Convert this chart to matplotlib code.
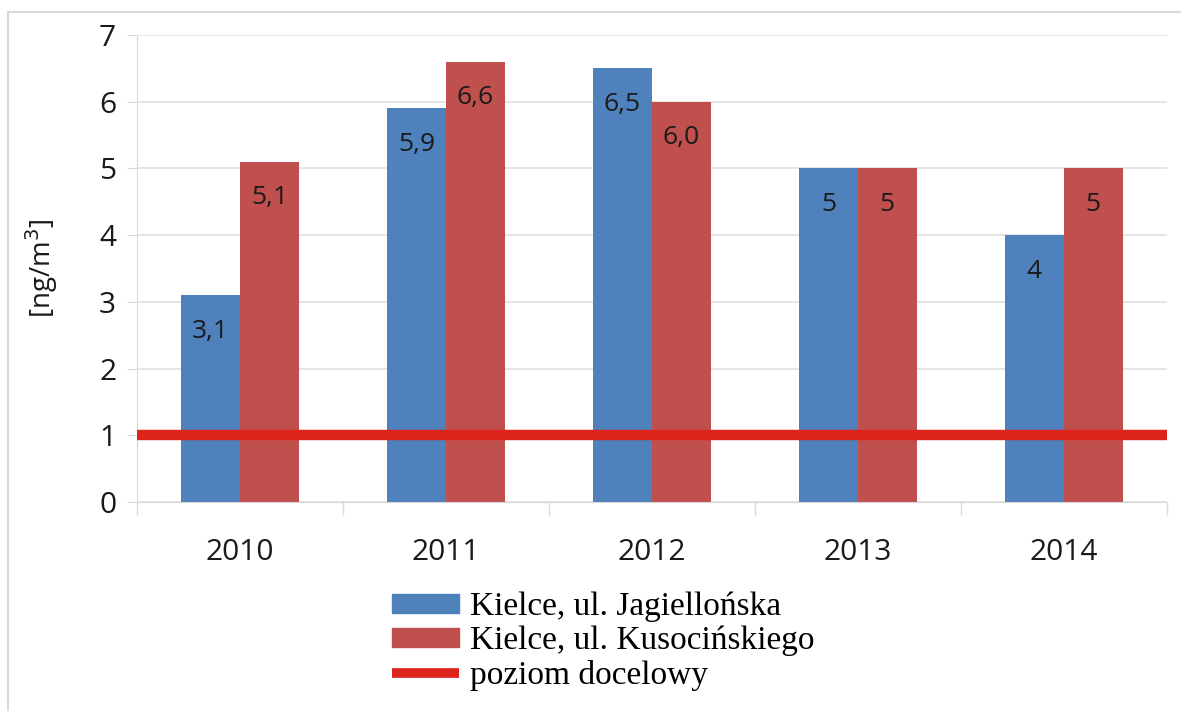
import matplotlib.pyplot as plt
import numpy as np
from matplotlib.patches import Rectangle
from matplotlib.lines import Line2D

# --- dane ---
lata = ['2010', '2011', '2012', '2013', '2014']
jagiellonska = [3.1, 5.9, 6.5, 5, 4]
kusocinskiego = [5.1, 6.6, 6.0, 5, 5]
etykiety_jag = ['3,1', '5,9', '6,5', '5', '4']
etykiety_kus = ['5,1', '6,6', '6,0', '5', '5']
poziom_docelowy = 1

niebieski = '#4F81BD'
czerwony = '#C0504D'
linia = '#DC241C'

plt.rcParams['font.family'] = ['Open Sans', 'DejaVu Sans']

fig = plt.figure(figsize=(11.81, 7.11), dpi=100)
ax = fig.add_axes([0.116, 0.294, 0.872, 0.657])

# ramka wykresu
fig.patches.append(Rectangle((8 / 1181, -0.01), 1.0, 1 - 12 / 711 + 0.01,
                             transform=fig.transFigure, fill=False,
                             edgecolor='#D9D9D9', linewidth=1.5))

x = np.arange(len(lata))
w = 0.286
b1 = ax.bar(x - w / 2, jagiellonska, w, color=niebieski, zorder=2)
b2 = ax.bar(x + w / 2, kusocinskiego, w, color=czerwony, zorder=2)

for rects, labs in ((b1, etykiety_jag), (b2, etykiety_kus)):
    for r, t in zip(rects, labs):
        ax.annotate(t, (r.get_x() + r.get_width() / 2, r.get_height()),
                    xytext=(0, -26), textcoords='offset points',
                    ha='center', va='center', fontsize=19, color='#1a1a1a',
                    zorder=4)

ax.axhline(poziom_docelowy, color=linia, linewidth=7.5, zorder=3)

ax.set_xlim(-0.5, len(lata) - 0.5)
ax.set_ylim(0, 7)
ax.set_yticks(range(0, 8))
ax.set_xticks(x)
ax.set_xticklabels(lata)
ax.set_xticks(np.arange(-0.5, len(lata)), minor=True)
ax.tick_params(axis='x', which='major', length=0, pad=26, labelsize=21.5, colors='#1a1a1a')
ax.tick_params(axis='x', which='minor', length=9, color='#D9D9D9', width=1)
ax.tick_params(axis='y', length=7, color='#D9D9D9', pad=8, labelsize=21.5, labelcolor='#1a1a1a')

ax.grid(axis='y', color='#E0E0E0', linewidth=1.2, zorder=0)
ax.set_axisbelow(True)
for s in ['top', 'right']:
    ax.spines[s].set_visible(False)
ax.spines['left'].set_color('#D9D9D9')
ax.spines['bottom'].set_color('#D9D9D9')

ax.set_ylabel('[ng/m$^3$]', fontsize=20, labelpad=28, color='#1a1a1a')

uchwyty = [Rectangle((0, 0), 1, 1, color=niebieski),
           Rectangle((0, 0), 1, 1, color=czerwony),
           Line2D([0], [0], color=linia, linewidth=7, solid_capstyle='butt')]
fig.legend(uchwyty,
           ['Kielce, ul. Jagiellońska', 'Kielce, ul. Kusocińskiego', 'poziom docelowy'],
           loc='upper left', bbox_to_anchor=(392 / 1181, 1 - 592 / 711),
           frameon=False, prop={'family': 'Liberation Serif', 'size': 24},
           handlelength=2.0, handleheight=0.48, handletextpad=0.35,
           labelspacing=0.1, borderpad=0, borderaxespad=0)

fig.savefig('out.png', dpi=100)
